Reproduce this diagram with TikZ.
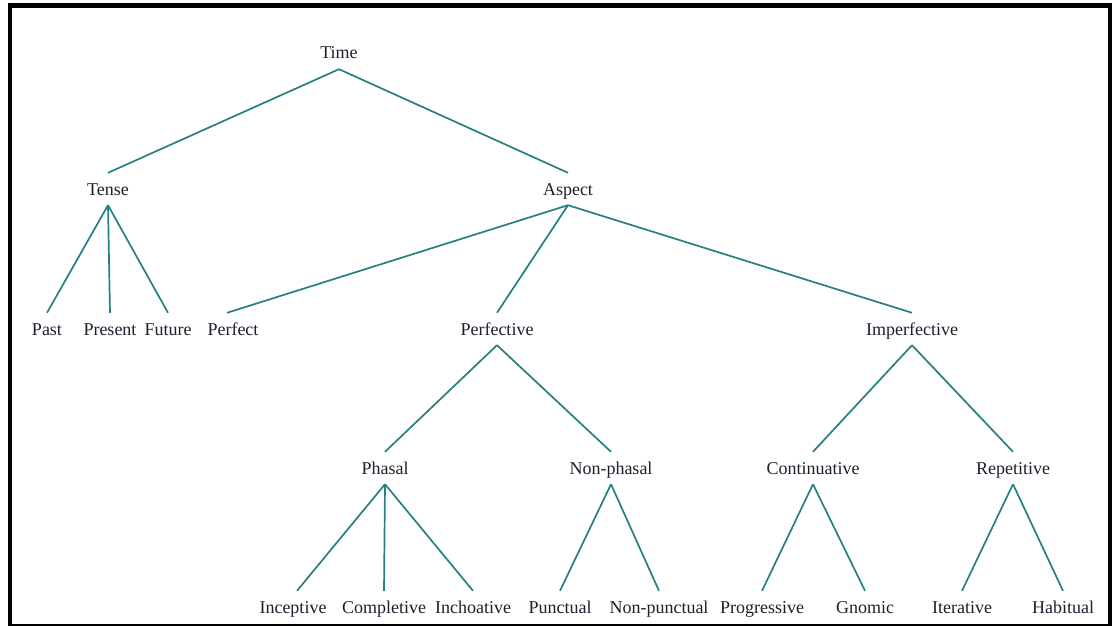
\documentclass[tikz,border=0pt]{standalone}
\usepackage{fontspec}
\setmainfont{Liberation Serif}
\usepackage{tikz}
\usetikzlibrary{positioning}
\definecolor{teal}{RGB}{38,128,128}
\definecolor{ink}{RGB}{30,30,45}

\begin{document}
\begin{tikzpicture}
		[x=1pt, y=-1pt, font=\fontsize{18}{20}\selectfont,
		term/.style		= {anchor=base, text=ink, inner xsep=0pt, inner ysep=10pt, text height=12pt, text depth=0pt},
		branch/.style	= {draw=teal, line width=1.7pt},
		frame/.style	= {draw=black, line width=4.5pt}]
		
		\useasboundingbox (0, 0) rectangle (1114, 626);
		\begin{scope}
		\clip (0, 0) rectangle (1114, 626);
		\draw [frame] (10, 5.5) rectangle (1110, 626.5);
		\end{scope}
		
		\node at (339, 59)		[term]	(time)	{Time};
		
		\node at (108, 195)		[term]	(tense)	{Tense};
		\node at (568, 195)		[term]	(aspect)	{Aspect};
		
		\node at (47, 335)		[term]	(past)	{Past};
		\node at (110, 335)		[term]	(present)	{Present};
		\node at (168, 335)		[term]	(future)	{Future};
		\node at (233, 335)		[term]	(perf)	{Perfect};
		\node at (497, 335)		[term]	(pfv)	{Perfective};
		\node at (912, 335)		[term]	(ipfv)	{Imperfective};
		
		\node at (385, 474)		[term]	(phasal)	{Phasal};
		\node at (611, 474)		[term]	(nonph)	{Non-phasal};
		\node at (813, 474)		[term]	(cont)	{Continuative};
		\node at (1013, 474)	[term]	(rep)	{Repetitive};
		
		\node at (293, 613)		[term]	(incep)	{Inceptive};
		\node at (384, 613)		[term]	(compl)	{Completive};
		\node at (473, 613)		[term]	(inch)	{Inchoative};
		\node at (560, 613)		[term]	(punct)	{Punctual};
		\node at (659, 613)		[term]	(nonpunct)	{Non-punctual};
		\node at (762, 613)		[term]	(prog)	{Progressive};
		\node at (865, 613)		[term]	(gnom)	{Gnomic};
		\node at (962, 613)		[term]	(iter)	{Iterative};
		\node at (1063, 613)	[term]	(habit)	{Habitual};
		
		\draw [branch] (time.south) -- (tense.north);
		\draw [branch] (time.south) -- (aspect.north);
		
		\draw [branch] (tense.south) -- (past.north);
		\draw [branch] (tense.south) -- (present.north);
		\draw [branch] (tense.south) -- (future.north);
		
		\draw [branch] (aspect.south) -- ([xshift=-6pt]perf.north);
		\draw [branch] (aspect.south) -- (pfv.north);
		\draw [branch] (aspect.south) -- (ipfv.north);
		
		\draw [branch] (pfv.south) -- (phasal.north);
		\draw [branch] (pfv.south) -- (nonph.north);
		\draw [branch] (ipfv.south) -- (cont.north);
		\draw [branch] (ipfv.south) -- (rep.north);
		
		\draw [branch] (phasal.south) -- ([xshift=4pt]incep.north);
		\draw [branch] (phasal.south) -- (compl.north);
		\draw [branch] (phasal.south) -- (inch.north);
		
		\draw [branch] (nonph.south) -- (punct.north);
		\draw [branch] (nonph.south) -- (nonpunct.north);
		
		\draw [branch] (cont.south) -- (prog.north);
		\draw [branch] (cont.south) -- (gnom.north);
		
		\draw [branch] (rep.south) -- (iter.north);
		\draw [branch] (rep.south) -- (habit.north);
		
		\end{tikzpicture}
\end{document}
